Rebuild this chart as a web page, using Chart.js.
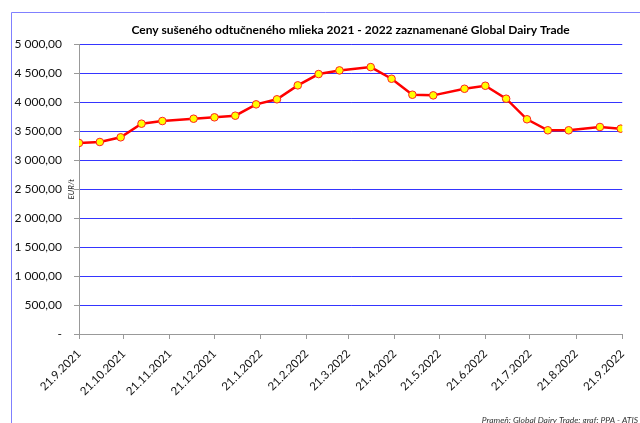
<!DOCTYPE html>
<html><head><meta charset="utf-8">
<script src="https://cdn.jsdelivr.net/npm/chart.js@4/dist/chart.umd.min.js"></script>
<style>html,body{margin:0;padding:0;background:#fff}#w{width:640px;height:423px}</style>
</head><body><div id="w"><canvas id="c" width="640" height="423"></canvas></div>
<script>
const auctionDates = ['2021-09-21','2021-10-05','2021-10-19','2021-11-02','2021-11-16','2021-12-07','2021-12-21','2022-01-04','2022-01-18','2022-02-01','2022-02-15','2022-03-01','2022-03-15','2022-04-05','2022-04-19','2022-05-03','2022-05-17','2022-06-07','2022-06-21','2022-07-05','2022-07-19','2022-08-02','2022-08-16','2022-09-06','2022-09-20'];
const prices = [3298,3315,3396,3631,3677,3717,3741,3769,3965,4052,4293,4488,4551,4608,4407,4131,4120,4234,4286,4062,3707,3517,3517,3574,3545];
const tickDates = ['2021-09-21','2021-10-21','2021-11-21','2021-12-21','2022-01-21','2022-02-21','2022-03-21','2022-04-21','2022-05-21','2022-06-21','2022-07-21','2022-08-21','2022-09-21'];
const tickLabels = ['21.9.2021','21.10.2021','21.11.2021','21.12.2021','21.1.2022','21.2.2022','21.3.2022','21.4.2022','21.5.2022','21.6.2022','21.7.2022','21.8.2022','21.9.2022'];
const titleText = 'Ceny sušeného odtučneného mlieka 2021 - 2022 zaznamenané Global Dairy Trade';
const yTitle = 'EUR/t';
const sourceText = 'Prameň: Global Dairy Trade; graf: PPA - ATIS';

const DAY = 86400000;
const base = Date.parse(tickDates[0] + 'T00:00:00Z');
const toDay = s => Math.round((Date.parse(s + 'T00:00:00Z') - base) / DAY);
const points = auctionDates.map((d, i) => ({x: toDay(d), y: prices[i]}));
const tickDays = tickDates.map(toDay);

function fmt(v){
  if (v === 0) return '-';
  const s = Math.round(v).toString().replace(/\B(?=(\d{3})+(?!\d))/g, ' ');
  return s + ',00';
}

const FONT = 'Lato, "Open Sans", sans-serif';

const deco = {
  id: 'deco',
  beforeDraw(chart){
    const ctx = chart.ctx;
    ctx.save();
    ctx.strokeStyle = '#8080ff';
    ctx.lineWidth = 1;
    ctx.beginPath();
    ctx.moveTo(11.5, 423); ctx.lineTo(11.5, 12.5); ctx.lineTo(640, 12.5);
    ctx.stroke();
    ctx.restore();
  },
  afterDraw(chart){
    const ctx = chart.ctx, a = chart.chartArea;
    ctx.save();
    ctx.font = 'italic 8.5px ' + FONT;
    ctx.fillStyle = '#333';
    ctx.textAlign = 'right';
    ctx.textBaseline = 'middle';
    ctx.fillText(sourceText, 638, 420);
    ctx.translate(71, (a.top + a.bottom) / 2);
    ctx.rotate(-Math.PI / 2);
    ctx.font = 'italic 8px ' + FONT;
    ctx.fillStyle = '#222';
    ctx.textAlign = 'center';
    ctx.fillText(yTitle, 0, 0);
    ctx.restore();
  }
};

new Chart(document.getElementById('c'), {
  type: 'line',
  data: { datasets: [{
    data: points,
    borderColor: '#ff0000',
    borderWidth: 2.5,
    tension: 0,
    pointRadius: 3.8,
    pointBackgroundColor: '#ffff00',
    pointBorderColor: '#ff2020',
    pointBorderWidth: 1
  }]},
  options: {
    responsive: false,
    animation: false,
    layout: { padding: { top: 23, right: 15, left: 0, bottom: 0 } },
    plugins: {
      legend: { display: false },
      tooltip: { enabled: false },
      title: { display: true, text: titleText, fullSize: false, color: '#000',
        font: { family: FONT, size: 12, weight: 'bold' }, padding: { top: 0, bottom: 7 } },
      subtitle: { display: false }
    },
    scales: {
      x: {
        type: 'linear', min: 0, max: 365,
        afterBuildTicks(s){ s.ticks = tickDays.map(v => ({value: v})); },
        afterFit(s){ s.height = 89; },
        ticks: { autoSkip: false, maxRotation: 45, minRotation: 45, color: '#111', padding: 8,
          font: { family: FONT, size: 11.5 },
          callback: (v, i) => tickLabels[i] },
        grid: { drawOnChartArea: false, drawTicks: true, tickLength: 5, color: '#999' },
        border: { color: '#999' }
      },
      y: {
        min: 0, max: 5000,
        afterFit(s){ s.width = 79; },
        ticks: { stepSize: 500, padding: 12, color: '#111', font: { family: FONT, size: 12 },
          callback: v => fmt(v) },
        grid: { color: '#3535ff', tickColor: '#999', tickLength: 5 },
        border: { color: '#999' }
      }
    }
  },
  plugins: [deco]
});
</script></body></html>
